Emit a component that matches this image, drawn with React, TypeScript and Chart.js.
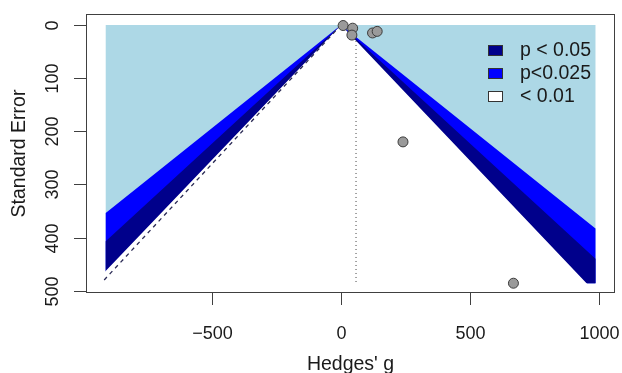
import React, { useEffect, useRef } from "react";
import { Chart, registerables } from "chart.js";

Chart.register(...registerables);

// Study points: effect size (Hedges' g) and standard error
const studyEffect = [8, 45, 42, 122, 140, 240, 668];
const studySE = [1, 6, 19, 15, 12, 220, 486];

// Axis ticks
const xTicks = [-500, 0, 500, 1000];
const xTickLabels = ["\u2212500", "0", "500", "1000"];
const yTicks = [0, 100, 200, 300, 400, 500];
const yTickLabels = ["0", "100", "200", "300", "400", "500"];

// Contour regions (polygon vertices)
const regionLightX = [-912, 986, 986, -912];
const regionLightY = [0, 0, 486, 486];
const regionBlueX = [0, -912, -912, 986, 986];
const regionBlueY = [0, 354, 486, 486, 383];
const regionNavyX = [0, -912, -912, 986, 986];
const regionNavyY = [0, 407, 486, 486, 440];
const regionWhiteX = [0, -916, -916, 955];
const regionWhiteY = [0, 465, 488, 488];

// Dashed funnel line and dotted estimate line
const dashX = [0, -922];
const dashY = [0, 482];
const estX = [58, 58];
const estY = [0, 486];

// Legend
const legendLabels = ["p < 0.05", "p<0.025", "< 0.01"];
const legendColors = ["#00008b", "#0000ff", "#ffffff"];

const xTitle = "Hedges' g";
const yTitle = "Standard Error";

const FONT = '"Liberation Sans", Arial, Helvetica, sans-serif';

function pts(xs: number[], ys: number[]) {
  return xs.map((x, i) => ({ x, y: ys[i] }));
}

const axesPlugin = {
  id: "rAxes",
  afterDraw(chart: any) {
    const { ctx, chartArea: a, scales } = chart;
    const xs = scales.x;
    const ys = scales.y;
    ctx.save();
    ctx.strokeStyle = "#404040";
    ctx.lineWidth = 1;
    ctx.strokeRect(a.left + 0.5, a.top + 0.5, a.right - a.left - 1, a.bottom - a.top - 1);

    ctx.fillStyle = "#1a1a1a";
    ctx.font = `18px ${FONT}`;
    // x ticks
    ctx.textAlign = "center";
    ctx.textBaseline = "alphabetic";
    xTicks.forEach((v, i) => {
      const px = Math.round(xs.getPixelForValue(v)) + 0.5;
      ctx.beginPath();
      ctx.moveTo(px, a.bottom);
      ctx.lineTo(px, a.bottom + 12);
      ctx.stroke();
      ctx.fillText(xTickLabels[i], px, 339);
    });
    // y ticks
    yTicks.forEach((v, i) => {
      const py = Math.round(ys.getPixelForValue(v)) + 0.5;
      ctx.beginPath();
      ctx.moveTo(a.left, py);
      ctx.lineTo(a.left - 12, py);
      ctx.stroke();
      ctx.save();
      ctx.translate(58, py);
      ctx.rotate(-Math.PI / 2);
      ctx.fillText(yTickLabels[i], 0, 0);
      ctx.restore();
    });
    // titles
    ctx.font = `19.5px ${FONT}`;
    ctx.fillText(xTitle, (a.left + a.right) / 2, 370);
    ctx.save();
    ctx.translate(25, (a.top + a.bottom) / 2);
    ctx.rotate(-Math.PI / 2);
    ctx.fillText(yTitle, 0, 0);
    ctx.restore();

    // legend
    ctx.textAlign = "left";
    const baselines = [56, 79, 102];
    legendLabels.forEach((lab, i) => {
      const by = baselines[i];
      ctx.fillStyle = legendColors[i];
      ctx.fillRect(488, by - 11, 15, 11);
      ctx.strokeStyle = "#333333";
      ctx.strokeRect(488.5, by - 10.5, 14, 10);
      ctx.fillStyle = "#1a1a1a";
      ctx.fillText(lab, 520, by);
    });
    ctx.restore();
  },
};

export default function App() {
  const ref = useRef<HTMLCanvasElement | null>(null);

  useEffect(() => {
    if (!ref.current) return;
    const shape = (xs: number[], ys: number[], color: string, order: number) => ({
      type: "line" as const,
      data: pts(xs, ys),
      backgroundColor: color,
      borderColor: "rgba(0,0,0,0)",
      borderWidth: 0,
      pointRadius: 0,
      fill: "shape",
      tension: 0,
      order,
    });
    const chart = new Chart(ref.current, {
      type: "scatter",
      data: {
        datasets: [
          {
            type: "scatter",
            data: pts(studyEffect, studySE),
            backgroundColor: "#9a9a9a",
            borderColor: "#3c3c3c",
            borderWidth: 1,
            pointRadius: 5,
            order: 0,
          } as any,
          {
            type: "line",
            data: pts(estX, estY),
            borderColor: "#444444",
            borderWidth: 1,
            borderDash: [1, 3],
            pointRadius: 0,
            fill: false,
            order: 1,
          } as any,
          {
            type: "line",
            data: pts(dashX, dashY),
            borderColor: "#2a2a55",
            borderWidth: 1.3,
            borderDash: [4, 4],
            pointRadius: 0,
            fill: false,
            order: 2,
          } as any,
          shape(regionWhiteX, regionWhiteY, "#ffffff", 3) as any,
          shape(regionNavyX, regionNavyY, "#00008b", 4) as any,
          shape(regionBlueX, regionBlueY, "#0000ff", 5) as any,
          shape(regionLightX, regionLightY, "#add8e6", 6) as any,
        ],
      },
      options: {
        animation: false,
        responsive: false,
        devicePixelRatio: 1,
        layout: { padding: { left: 86, right: 7, top: 14, bottom: 80 } },
        scales: {
          x: { type: "linear", min: -988.4, max: 1061.6, display: false },
          y: { type: "linear", reverse: true, min: -20.7, max: 504.4, display: false },
        },
        plugins: {
          legend: { display: false },
          tooltip: { enabled: false },
        },
      },
      plugins: [axesPlugin],
    });
    return () => chart.destroy();
  }, []);

  return (
    <div style={{ position: "absolute", left: 0, top: 0, width: 622, height: 373, background: "#ffffff" }}>
      <canvas ref={ref} width={622} height={373} style={{ display: "block" }} />
    </div>
  );
}
